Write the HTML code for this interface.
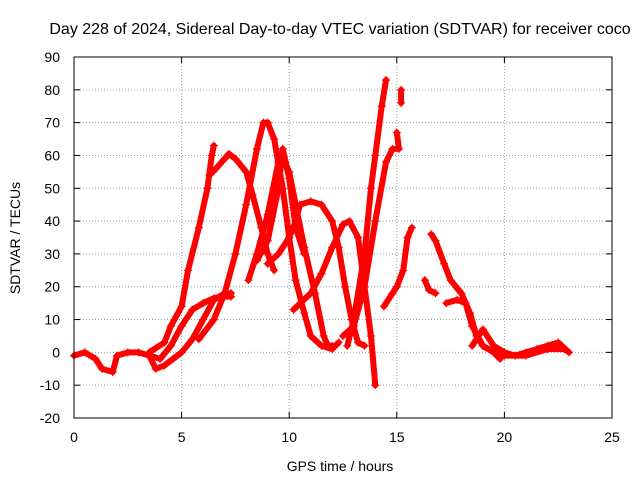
<!DOCTYPE html>
<html><head><meta charset="utf-8"><style>
body{margin:0;background:#fff}
svg{display:block;font-family:"Liberation Sans",sans-serif}
</style></head><body>
<svg id="chart" width="640" height="480" viewBox="0 0 640 480">
<rect width="640" height="480" fill="#fff"/>
<text x="340" y="34" font-size="16" text-anchor="middle">Day 228 of 2024, Sidereal Day-to-day VTEC variation (SDTVAR) for receiver coco</text>
<g id="grid"></g>
<g id="ticks"></g>
<g id="marks"></g>
<rect x="74" y="57" width="538" height="361" fill="none" stroke="#000" stroke-width="1"/>
<text x="340" y="471" font-size="14" text-anchor="middle">GPS time / hours</text>
<text x="20" y="238" font-size="14" text-anchor="middle" transform="rotate(-90 20 238)">SDTVAR / TECUs</text>
</svg>
<script>
const xTicks=[0,5,10,15,20,25];
const yTicks=[-20,-10,0,10,20,30,40,50,60,70,80,90];
const track1=[[0,-1],[0.5,0],[1,-2],[1.3,-5],[1.8,-6],[2,-1],[2.5,0],[3,0],[3.5,-1],[3.8,-5],[4.2,-4],[4.6,-2],[5,0],[5.5,4],[6,10],[6.5,16],[7,18],[7.3,18]];
const track2=[[3.5,-1],[4,-2],[4.5,2],[5,8],[5.5,13],[6,15],[6.5,16.5],[7,17],[7.3,17]];
const track3=[[3.5,0],[4.2,3],[4.5,8],[5,14],[5.3,25],[5.8,38],[6.2,50],[6.4,60],[6.5,63]];
const track4=[[6.3,54],[6.6,56],[7,59],[7.2,60.5],[7.5,59],[8,55],[8.3,48],[8.7,38],[9,30],[9.3,25]];
const track5=[[5.8,4],[6.5,10],[7,18],[7.5,30],[8,45],[8.5,62],[8.8,70],[9,70],[9.3,65],[9.7,50],[10,35],[10.3,22],[10.7,12],[11,5],[11.5,2],[12,1],[12.3,3]];
const track6=[[8.1,22],[8.5,30],[9,42],[9.5,58],[9.8,58],[10,55],[10.3,45],[10.7,32],[11.2,18],[11.6,5],[11.8,2],[12,2]];
const track7=[[8.5,28],[9,34],[9.5,50],[9.7,62],[10,53],[10.3,38],[10.7,30]];
const track8=[[9,27],[9.5,30],[10,35],[10.3,40],[10.5,45],[11,46],[11.5,45],[12,40],[12.3,32],[12.6,20],[12.9,10],[13.2,3],[13.5,2]];
const track9=[[10.2,13],[11,18],[11.5,24],[12,32],[12.5,39],[12.8,40],[13.2,35],[13.5,20],[13.8,5],[14,-10]];
const track10=[[12.5,5],[13,8],[13.5,20],[14,40],[14.5,58],[14.8,62],[15.1,62],[15,67]];
const track11=[[12.7,2],[13,10],[13.5,30],[13.8,50],[14,60],[14.3,75],[14.5,83]];
const track12=[[14.4,14],[14.8,18],[15,20],[15.3,25],[15.5,35],[15.7,38]];
const track13=[[15.2,80],[15.2,76]];
const track14=[[16.3,22],[16.5,19],[16.8,18]];
const track15=[[16.6,36],[16.8,34],[17.2,27],[17.5,22],[18,18],[18.4,12],[18.7,5],[19,2],[19.5,0],[20,0]];
const track16=[[17.3,15],[17.8,16],[18.2,15],[18.5,8],[19,2],[19.5,0],[19.8,-2]];
const track17=[[18.5,2],[19,7],[19.5,2],[20,0],[20.5,-1],[21,0],[21.5,1],[22,2],[22.5,3],[23,0]];
const track18=[[19.5,0],[20,-1],[21,-1],[22,1],[22.8,1]];
const tracks=[track1,track2,track3,track4,track5,track6,track7,track8,track9,track10,track11,track12,track13,track14,track15,track16,track17,track18];

const X0=74,X1=612,Y0=418,Y1=57,XMIN=0,XMAX=25,YMIN=-20,YMAX=90;
function xs(v){return X0+(v-XMIN)/(XMAX-XMIN)*(X1-X0);}
function ys(v){return Y0-(v-YMIN)/(YMAX-YMIN)*(Y0-Y1);}
const NS="http://www.w3.org/2000/svg";
function mk(tag,attrs,parent){const e=document.createElementNS(NS,tag);for(const k in attrs)e.setAttribute(k,attrs[k]);parent.appendChild(e);return e;}
const grid=document.getElementById('grid'),ticks=document.getElementById('ticks'),marks=document.getElementById('marks');
xTicks.forEach(t=>{
  const x=xs(t);
  if(t>XMIN&&t<XMAX){const g=mk('line',{x1:x,x2:x,y1:Y1,y2:Y0,stroke:'#a0a0a0','stroke-dasharray':'1,2'},grid);
  
  }
  mk('line',{x1:x,x2:x,y1:Y0,y2:Y0-6,stroke:'#000'},ticks);
  mk('line',{x1:x,x2:x,y1:Y1,y2:Y1+6,stroke:'#000'},ticks);
  const l=mk('text',{x:x,y:Y0+24,'font-size':14,'text-anchor':'middle'},ticks);
  l.textContent=t;
  
  
});
yTicks.forEach(t=>{
  const y=ys(t);
  if(t>YMIN&&t<YMAX){const g=mk('line',{x1:X0,x2:X1,y1:y,y2:y,stroke:'#a0a0a0','stroke-dasharray':'1,2'},grid);
  
  }
  mk('line',{x1:X0,x2:X0+6,y1:y,y2:y,stroke:'#000'},ticks);
  mk('line',{x1:X1,x2:X1-6,y1:y,y2:y,stroke:'#000'},ticks);
  const l=mk('text',{x:X0-14,y:y+5,'font-size':14,'text-anchor':'end'},ticks);
  l.textContent=t;
  
  
});
tracks.forEach((tr,i)=>{
  const g=mk('g',{},marks);
  
  
  mk('polyline',{points:tr.map(p=>xs(p[0])+','+ys(p[1])).join(' '),fill:'none',stroke:'#f00','stroke-width':6,'stroke-linejoin':'round','stroke-linecap':'round'},g);
  tr.forEach(p=>{
    const x=xs(p[0]),y=ys(p[1]);
    mk('path',{d:`M${x-4},${y}H${x+4}M${x},${y-4}V${y+4}`,stroke:'#f00','stroke-width':1.2},g);
  });
});
</script>
</body></html>
